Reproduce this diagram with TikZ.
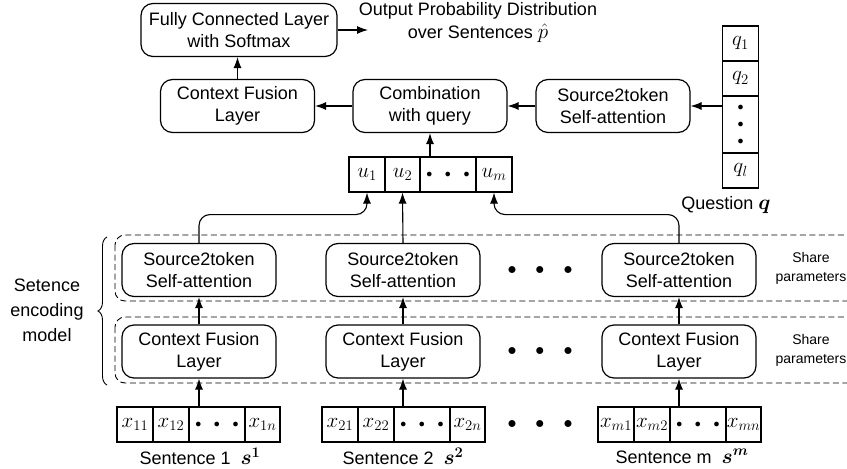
\RequirePackage{fix-cm}
\documentclass[tikz,border=0pt]{standalone}
\usepackage{amsmath}
\usepackage{amssymb}
\usepackage{fontspec}
\setmainfont{Liberation Sans}
\usetikzlibrary{arrows.meta,decorations.pathreplacing,positioning,calc}
\tikzset{layer node/.style={draw, line width=1.2pt, rounded corners=12pt, align=center,
    minimum width=154pt, minimum height=53pt, inner sep=2pt, font=\fontsize{18}{22}\selectfont}}
\tikzset{fc node/.style={layer node, minimum width=196pt}}
\tikzset{cell node/.style={draw, line width=1.1pt, minimum width=36pt, minimum height=35pt,
    inner sep=0pt, font=\fontsize{21}{24}\selectfont}}
\tikzset{wide cell node/.style={cell node, minimum width=56pt}}
\tikzset{flow edge/.style={draw, line width=1.1pt, -{Latex[length=11pt,width=8pt]}}}
\tikzset{share frame/.style={draw, dash pattern=on 6pt off 3.5pt, line width=0.9pt, rounded corners=10pt}}
\tikzset{plain label/.style={align=center, inner sep=1pt, font=\fontsize{18}{22}\selectfont}}
\tikzset{share label/.style={align=center, font=\fontsize{14}{19}\selectfont}}
\newcommand{\celldots}{{\fontsize{12}{12}\selectfont$\bullet\hspace{10pt}\bullet\hspace{10pt}\bullet$}}
\newcommand{\gapdots}{{\fontsize{18}{18}\selectfont$\bullet\hspace{15pt}\bullet\hspace{15pt}\bullet$}}
\newcommand{\bigmath}[1]{{\fontsize{21}{18}\selectfont$#1$}}

\begin{document}
\begin{tikzpicture}
  [x=1pt, y=-1pt]
  \useasboundingbox (0,0) rectangle (847,469);

  % top part
  \node [fc node]    (fc)     at (239, 30)   {Fully Connected Layer\\with Softmax};
  \node [plain label, font=\fontsize{18}{23}\selectfont]
                     (out)    at (478, 23)   {Output Probability Distribution\\over Sentences \bigmath{\hat{p}}};
  \coordinate        (outtip) at (368, 30);
  \node [layer node] (cftop)  at (237.5, 106) {Context Fusion\\Layer};
  \node [layer node] (comb)   at (430, 106)  {Combination\\with query};
  \node [layer node] (saq)    at (613, 106)  {Source2token\\Self-attention};

  \node [cell node]                      (q1)    at (740.5, 43.5)  {$q_1$};
  \node [cell node]                      (q2)    at (740.5, 78.5)  {$q_2$};
  \node [cell node, minimum height=57pt, align=center,
         font=\fontsize{12}{17}\selectfont] (qdots) at (740.5, 124.5) {$\bullet$\\$\bullet$\\$\bullet$};
  \node [cell node]                      (ql)    at (740.5, 170.5) {$q_l$};
  \node [plain label]                    (qlab)  at (726, 205)     {Question \bigmath{\boldsymbol{q}}};

  \node [cell node]                      (u1)    at (367, 174.5)   {$u_1$};
  \node [cell node, minimum width=35pt]  (u2)    at (402.5, 174.5) {$u_2$};
  \node [wide cell node]                 (udots) at (448, 174.5)   {\celldots};
  \node [cell node]                      (um)    at (494, 174.5)   {$u_m$};

  \draw [flow edge] (fc.east)                  to (outtip);
  \draw [flow edge] (cftop.north)              to (fc.south -| cftop.north);
  \draw [flow edge] (comb.west)                to (cftop.east);
  \draw [flow edge] (saq.west)                 to (comb.east);
  \draw [flow edge] (qdots.west |- saq.east)   to (saq.east);
  \draw [flow edge] (comb.south |- udots.north) to (comb.south);

  % sentence encoding model
  \draw [share frame] (115,235) rectangle (900,301);
  \draw [share frame] (115,317) rectangle (900,383);
  \draw [decorate, decoration={brace, amplitude=9pt}, line width=0.9pt] (107,385) -- (107,237);
  \node [plain label, font=\fontsize{18}{25}\selectfont] (enc) at (47, 310) {Setence\\encoding\\model};
  \node [share label] (share1) at (811, 268.5) {Share\\parameters};
  \node [share label] (share2) at (811, 350)   {Share\\parameters};

  \begin{scope}[xshift=199pt]
    \node [layer node]                     (sa1)  at (0, 270)     {Source2token\\Self-attention};
    \node [layer node]                     (cf1)  at (0, 351.5)   {Context Fusion\\Layer};
    \node [cell node]                      (x1a)  at (-64, 424.5) {$x_{11}$};
    \node [cell node]                      (x1b)  at (-28, 424.5) {$x_{12}$};
    \node [wide cell node]                 (x1c)  at (18, 424.5)  {\celldots};
    \node [cell node, minimum width=35pt]  (x1d)  at (63.5, 424.5) {$x_{1n}$};
    \node [plain label]                    (s1)   at (1, 456.5)   {Sentence 1\ \ \bigmath{\boldsymbol{s^1}}};

    \draw [flow edge] (cf1.south |- x1c.north) to (cf1.south);
    \draw [flow edge] (cf1.north)              to (sa1.south);
  \end{scope}

  \begin{scope}[xshift=403pt]
    \node [layer node]                     (sa2)  at (0, 270)     {Source2token\\Self-attention};
    \node [layer node]                     (cf2)  at (0, 351.5)   {Context Fusion\\Layer};
    \node [cell node]                      (x2a)  at (-63, 424.5) {$x_{21}$};
    \node [cell node]                      (x2b)  at (-27, 424.5) {$x_{22}$};
    \node [wide cell node]                 (x2c)  at (19, 424.5)  {\celldots};
    \node [cell node, minimum width=35pt]  (x2d)  at (64.5, 424.5) {$x_{2n}$};
    \node [plain label]                    (s2)   at (0, 456.5)   {Sentence 2\ \ \bigmath{\boldsymbol{s^2}}};

    \draw [flow edge] (cf2.south |- x2c.north) to (cf2.south);
    \draw [flow edge] (cf2.north)              to (sa2.south);
  \end{scope}

  \begin{scope}[xshift=679pt]
    \node [layer node]                     (sam)  at (0, 270)     {Source2token\\Self-attention};
    \node [layer node]                     (cfm)  at (0, 351.5)   {Context Fusion\\Layer};
    \node [cell node]                      (xma)  at (-63, 424.5) {$x_{m1}$};
    \node [cell node]                      (xmb)  at (-27, 424.5) {$x_{m2}$};
    \node [wide cell node]                 (xmc)  at (19, 424.5)  {\celldots};
    \node [cell node, minimum width=35pt]  (xmd)  at (64.5, 424.5) {$x_{mn}$};
    \node [plain label]                    (sm)   at (3, 456.5)   {Sentence m\ \ \bigmath{\boldsymbol{s^m}}};

    \draw [flow edge] (cfm.south |- xmc.north) to (cfm.south);
    \draw [flow edge] (cfm.north)              to (sam.south);
  \end{scope}

  \node (gapsa) at (540, 270)   {\gapdots};
  \node (gapcf) at (540, 351.5) {\gapdots};
  \node (gapx)  at (540, 424.5) {\gapdots};

  \draw [flow edge, rounded corners=11pt] (sa1.north) |- ([yshift=-22pt]u1.south) -- (u1.south);
  \draw [flow edge]                       (sa2.north) -- (u2.south);
  \draw [flow edge, rounded corners=11pt] (sam.north) |- ([yshift=-22pt]um.south) -- (um.south);
\end{tikzpicture}
\end{document}
